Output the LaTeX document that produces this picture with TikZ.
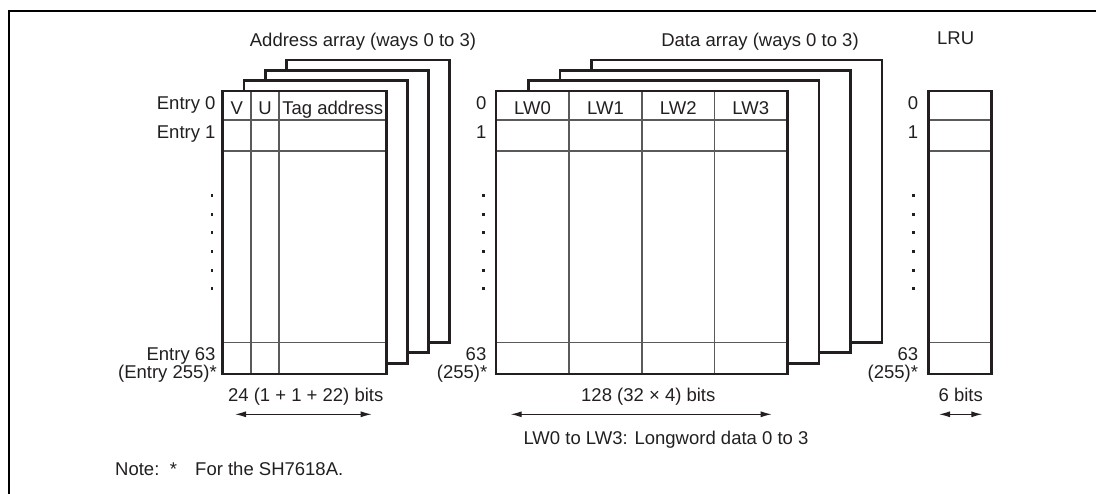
\documentclass[tikz,border=0pt]{standalone}
\usepackage{fontspec}
\setmainfont{Liberation Sans}
\usetikzlibrary{arrows.meta}
\definecolor{ink}{HTML}{231F20}
\definecolor{gridc}{HTML}{5A5A5A}
\begin{document}
\begin{tikzpicture}[x=1pt,y=-1pt,
  lbl/.style={inner sep=0pt, text height=13.2pt, text depth=0pt, font=\fontsize{18.5}{22}\selectfont, text=ink},
  panel/.style={draw=ink, line width=2.6pt, fill=white},
  border/.style={draw=ink, line width=2.6pt},
  cellline/.style={draw=gridc, line width=1.3pt},
  dimline/.style={draw=ink, line width=1.1pt, {Latex[length=11pt,width=6pt]}-{Latex[length=11pt,width=6pt]}},
  frameline/.style={draw=black, line width=2.4pt},
  dotmark/.style={fill=ink, draw=none, minimum size=2.4pt, inner sep=0pt, rectangle}
]
\useasboundingbox (0,0) rectangle (1096,494);
% outer frame (top and left edges)
\draw[frameline] (1096,11) -- (9,11) -- (9,494);

% ---------------- Address array ----------------
\draw[panel] (286.7,60) rectangle (449.3,342.3);
\draw[panel] (265.3,70.3) rectangle (428.7,352.7);
\draw[panel] (244,80.7) rectangle (407.7,363.3);
\draw[panel] (222.7,91) rectangle (386.7,374);
\foreach \yy in {120,151,342.7} \draw[cellline] (222.7,\yy) -- (386.7,\yy);
\foreach \xx in {251,279} \draw[cellline] (\xx,91) -- (\xx,374);
\draw[border] (222.7,91) rectangle (386.7,374);

\node[lbl] (atitle) at (363,39.7) {Address array (ways 0 to 3)};
\node[lbl] (av) at (236.8,107.5) {V};
\node[lbl] (au) at (265,107.5) {U};
\node[lbl] (atag) at (332.8,107.5) {Tag address};
\node[lbl, anchor=east] (ae0) at (215.7,103.3) {Entry 0};
\node[lbl, anchor=east] (ae1) at (215.7,131.7) {Entry 1};
\node[lbl, anchor=east] (ae63) at (215.7,353.5) {Entry 63};
\node[lbl, anchor=east] (ae255) at (217,372) {(Entry 255)*};
\foreach \yy [count=\i] in {195.7,214.7,232.7,251.7,270.7,288.7}
  \node[dotmark] (adot\i) at (211.7,\yy) {};
\node[lbl] (abits) at (305.7,395) {24 (1 + 1 + 22) bits};
\coordinate (aL) at (235,414.3);
\coordinate (aR) at (371.7,414.3);
\draw[dimline] (aL) -- (aR);

% ---------------- Data array ----------------
\draw[panel] (591.7,60) rectangle (882,342.3);
\draw[panel] (560,70.3) rectangle (850.7,352.7);
\draw[panel] (528.3,80.7) rectangle (819,363.3);
\draw[panel] (496,91) rectangle (787.3,374);
\foreach \yy in {120,151,342.7} \draw[cellline] (496,\yy) -- (787.3,\yy);
\foreach \xx in {569,642,714.3} \draw[cellline] (\xx,91) -- (\xx,374);
\draw[border] (496,91) rectangle (787.3,374);

\node[lbl] (dtitle) at (760,40) {Data array (ways 0 to 3)};
\node[lbl] (lw0) at (532.5,107.5) {LW0};
\node[lbl] (lw1) at (605.5,107.5) {LW1};
\node[lbl] (lw2) at (678.2,107.5) {LW2};
\node[lbl] (lw3) at (750.8,107.5) {LW3};
\node[lbl, anchor=east] (d0) at (486.5,103.3) {0};
\node[lbl, anchor=east] (d1) at (486.5,131.7) {1};
\node[lbl, anchor=east] (d63) at (486.5,353.5) {63};
\node[lbl, anchor=east] (d255) at (487.5,372) {(255)*};
\foreach \yy [count=\i] in {195.7,214.7,232.7,251.7,270.7,288.7}
  \node[dotmark] (ddot\i) at (483.5,\yy) {};
\node[lbl] (dbits) at (648.3,395) {128 (32 × 4) bits};
\coordinate (dL) at (510.7,414.3);
\coordinate (dR) at (771.7,414.3);
\draw[dimline] (dL) -- (dR);
\node[lbl] (dnote) at (666,437.5) {LW0 to LW3: Longword data 0 to 3};

% ---------------- LRU ----------------
\draw[panel] (928.3,91) rectangle (991.7,374);
\foreach \yy in {120,151,342.7} \draw[cellline] (928.3,\yy) -- (991.7,\yy);
\draw[border] (928.3,91) rectangle (991.7,374);
\node[lbl] (ltitle) at (955.7,38) {LRU};
\node[lbl, anchor=east] (l0) at (918.3,103.3) {0};
\node[lbl, anchor=east] (l1) at (918.3,131.7) {1};
\node[lbl, anchor=east] (l63) at (918.3,353.5) {63};
\node[lbl, anchor=east] (l255) at (918.3,372) {(255)*};
\foreach \yy [count=\i] in {195.7,214.7,232.7,251.7,270.7,288.7}
  \node[dotmark] (ldot\i) at (913.3,\yy) {};
\node[lbl] (lbits) at (960.7,395) {6 bits};
\coordinate (lL) at (939,414.3);
\coordinate (lR) at (982.3,414.3);
\draw[dimline] (lL) -- (lR);

% ---------------- Note ----------------
\node[lbl, anchor=west] (note) at (115,469) {Note:};
\node[lbl] (noteast) at (173.5,469) {*};
\node[lbl, anchor=west] (notetext) at (195,469) {For the SH7618A.};
\end{tikzpicture}
\end{document}
